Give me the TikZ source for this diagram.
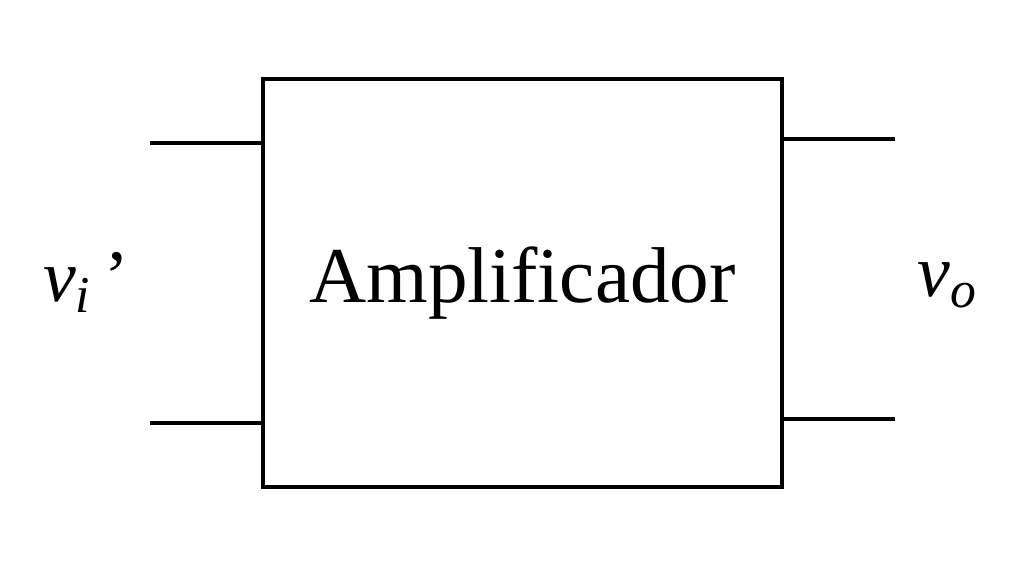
\documentclass[tikz,border=0pt]{standalone}
\usepackage{fontspec}
\setmainfont{Liberation Serif}
\usetikzlibrary{positioning,calc}

\begin{document}
\begin{tikzpicture}[x=0.01cm, y=-0.01cm,
        block/.style={draw, line width=0.95pt, minimum width=5.19cm, minimum height=4.08cm,
                      inner sep=0pt, font=\fontsize{22.5}{26}\selectfont},
        lead/.style={line width=0.95pt},
        port/.style={font=\fontsize{21}{25}\selectfont, inner sep=0pt}]
        \useasboundingbox (0,0) rectangle (1025,565);
        \node[block] (amp) at (522.5,283) {\raisebox{-0.04cm}{Amplificador}};
        \coordinate (in1) at (150,143);
        \coordinate (in2) at (150,423);
        \coordinate (out1) at (895,139);
        \coordinate (out2) at (895,419);
        \draw[lead] (in1) -- (in1 -| amp.west);
        \draw[lead] (in2) -- (in2 -| amp.west);
        \draw[lead] (out1) -- (out1 -| amp.east);
        \draw[lead] (out2) -- (out2 -| amp.east);
        \node[port] (vin) at (86,282) {\textit{v}\textsubscript{\textit{i}}\,’};
        \node[port] (vout) at (948,285) {\textit{v}\textsubscript{\textit{o}}};
      \end{tikzpicture}
\end{document}
